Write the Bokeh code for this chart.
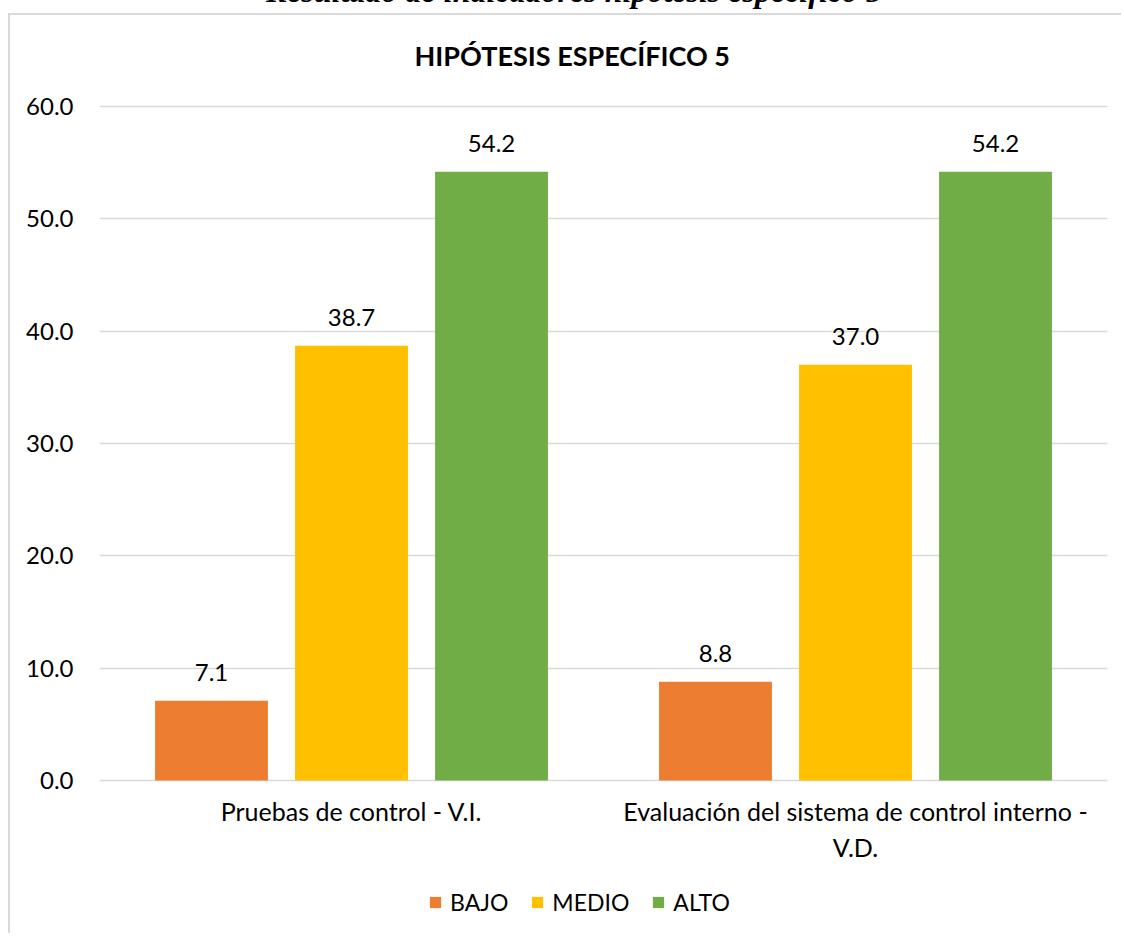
from bokeh.plotting import figure
from bokeh.models import (ColumnDataSource, FactorRange, Range1d, FixedTicker,
                          PrintfTickFormatter, Legend, LegendItem, Label, Div)
from bokeh.layouts import column
from bokeh.transform import dodge
from bokeh.embed import file_html
from bokeh.resources import INLINE

# ---------------- data ----------------
caption = "Resultado de indicadores hipótesis específico 5"
chart_title = "HIPÓTESIS ESPECÍFICO 5"
categories = ["Pruebas de control - V.I.",
              "Evaluación del sistema de control interno - V.D."]
category_labels = ["Pruebas de control - V.I.",
                   "Evaluación del sistema de control interno -\nV.D."]
series = ["BAJO", "MEDIO", "ALTO"]
bajo = [7.1, 8.8]
medio = [38.7, 37.0]
alto = [54.2, 54.2]
y_ticks = [0, 10, 20, 30, 40, 50, 60]
colors = ["#ED7D31", "#FFC000", "#70AD47"]

FONT = "Lato"
TXT = "#000000"
GRID = "#d9d9d9"

values = {"BAJO": bajo, "MEDIO": medio, "ALTO": alto}
data = {"cat": categories, "lab": category_labels}
for s in series:
    data[s] = values[s]
    data[s + "_t"] = [f"{v:.1f}" for v in values[s]]
src = ColumnDataSource(data)

# frame covers the whole canvas height; value axis 0..60 maps to the
# reference's gridline positions
p = figure(x_range=FactorRange(factors=categories, range_padding=0),
           y_range=Range1d(-13.8, 68.1),
           width=1113, height=920, output_backend="svg", toolbar_location=None,
           min_border_left=89, min_border_right=16, min_border_top=0,
           min_border_bottom=0, margin=(0, 0, 0, 8),
           styles={"border-top": f"2px solid {GRID}",
                   "border-left": f"2px solid {GRID}"})
p.outline_line_color = None
p.background_fill_color = "white"
p.border_fill_color = "white"

offsets = [-0.2778, 0.0, 0.2778]
renderers = []
for s, off, c in zip(series, offsets, colors):
    r = p.vbar(x=dodge("cat", off, range=p.x_range), top=s, bottom=0, width=0.224,
               source=src, fill_color=c, line_color=c, line_width=0)
    renderers.append(r)
    p.text(x=dodge("cat", off, range=p.x_range), y=s, text=s + "_t", source=src,
           text_align="center", text_baseline="alphabetic", y_offset=-28,
           text_font={"value": FONT}, text_font_size="24px", text_color=TXT)

# category labels under the baseline
p.text(x="cat", y=0, text="lab", source=src, text_align="center",
       text_baseline="top", y_offset=16, text_line_height=1.18,
       text_font={"value": FONT}, text_font_size="25px", text_color=TXT)

# axes
p.xaxis.visible = False
p.yaxis.ticker = FixedTicker(ticks=y_ticks)
p.yaxis.formatter = PrintfTickFormatter(format="%.1f")
p.yaxis.axis_line_color = None
p.yaxis.major_tick_line_color = None
p.yaxis.minor_tick_line_color = None
p.yaxis.major_tick_out = 0
p.yaxis.major_tick_in = 0
p.yaxis.major_label_standoff = 26
p.yaxis.major_label_text_font = FONT
p.yaxis.major_label_text_font_size = "24px"
p.yaxis.major_label_text_color = TXT

p.xgrid.grid_line_color = None
p.ygrid.ticker = FixedTicker(ticks=y_ticks)
p.ygrid.grid_line_color = GRID
p.ygrid.grid_line_width = 1.5

# title
p.add_layout(Label(x=0.938, y=64.54, text=chart_title, text_align="center",
                   text_baseline="alphabetic", text_font=FONT,
                   text_font_style="bold", text_font_size="27px",
                   text_color=TXT))

# legend
legend = Legend(items=[LegendItem(label=s, renderers=[r]) for s, r in zip(series, renderers)],
                orientation="horizontal", location=(329, 19),
                glyph_width=14, glyph_height=14, label_standoff=8, spacing=22,
                padding=0, margin=0, border_line_alpha=0, background_fill_alpha=0,
                label_text_font=FONT, label_text_font_size="23px",
                label_text_color=TXT)
p.add_layout(legend, "center")

cap_div = Div(text=(
    '<div style="position:relative; left:12px; top:-25px; width:1124px; '
    'text-align:center; white-space:nowrap; font-family:\'Liberation Serif\', serif; '
    'font-style:italic; font-weight:bold; font-size:32px; line-height:32px; color:#000;">'
    f'{caption}</div>'), width=1124, height=13, margin=(0, 0, 0, 0),
    styles={"overflow": "visible"})

layout = column(cap_div, p)
open("out.html", "w").write(file_html(layout, INLINE))
